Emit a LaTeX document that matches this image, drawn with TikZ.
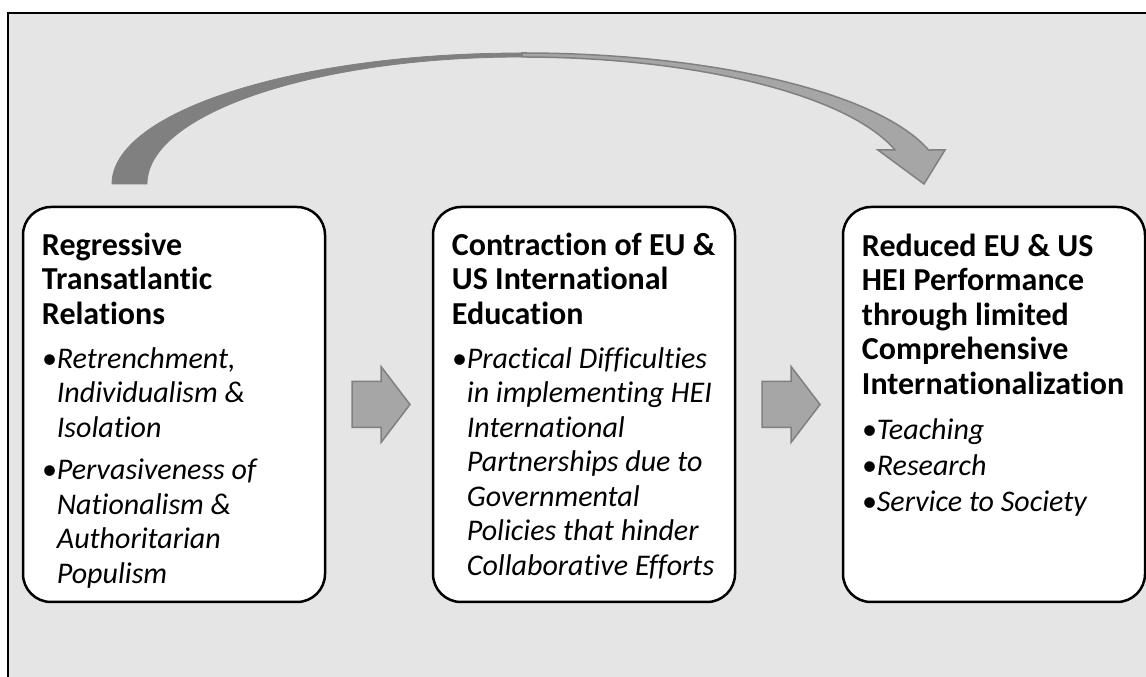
\documentclass[tikz,border=0pt]{standalone}
\usepackage{fontspec}
\setmainfont{Carlito}[Ligatures={NoCommon,NoContextual}]
\usetikzlibrary{positioning}
\usetikzlibrary{calc}

\newcommand{\hd}[1]{{\fontsize{32}{34.5}\selectfont\upshape\bfseries #1}}
\newcommand{\bul}{\textbullet}
\newcommand{\ind}{\phantom{\textbullet}}

\begin{document}
\begin{tikzpicture}[x=1pt,y=1pt,
	       box node/.style={draw, line width=2.5pt, rounded corners=28pt, fill=white,
	                        minimum width=302pt, minimum height=395pt, inner sep=0pt},
	       box text/.style={anchor=north west, inner sep=0pt, align=left,
	                        font=\fontsize{30}{34.5}\selectfont\itshape},
	       flat arrow/.style={fill=black!35, draw=black!50, line width=1.5pt},
	       back band/.style={fill=black!50, draw=black!50, line width=0.8pt},
	       front band/.style={fill=black!35, draw=black!50, line width=1.5pt}]

	      \useasboundingbox (0,0) rectangle (1146,677);
	      \draw[line width=2pt, fill=black!10] (8,-15) rectangle (1160,664);

	      \node[box node] at (174,272.5) (rel) {};
	      \node[box node] at (584,272.5) (edu) {};
	      \node[box node] at (994,272.5) (hei) {};

	      \node[box text] at ($(rel.north west)+(20,-27)$) (reltext)
	        {\hd{Regressive}\\ \hd{Transatlantic}\\ \hd{Relations}\\[9.5pt]
	         \bul Retrenchment,\\ \ind Individualism \&\\ \ind Isolation\\[8pt]
	         \bul Pervasiveness of\\ \ind Nationalism \&\\
	         \ind Authoritarian\\ \ind Populism};
	      \node[box text] at ($(edu.north west)+(20,-27)$) (edutext)
	        {\hd{Contraction of EU \&}\\ \hd{US International}\\ \hd{Education}\\[9.5pt]
	         \bul Practical Difficulties\\ \ind in implementing HEI\\
	         \ind International\\ \ind Partnerships due to\\
	         \ind Governmental\\ \ind Policies that hinder\\
	         \ind Collaborative Efforts};
	      \node[box text] at ($(hei.north west)+(20,-28)$) (heitext)
	        {\hd{Reduced EU \& US}\\ \hd{HEI Performance}\\ \hd{through limited}\\
	         \hd{Comprehensive}\\ \hd{Internationalization}\\[10.5pt]
	         \bul Teaching\\[1.5pt] \bul Research\\[1.5pt] \bul Service to Society};

	      % block arrows between the boxes
	      \coordinate (m1) at ($(rel.east)!0.5!(edu.west)$);
	      \coordinate (m2) at ($(edu.east)!0.5!(hei.west)$);
	      \foreach \m in {m1,m2}
	        \draw[flat arrow] ($(\m)+(-27,23)$) -- ++(29,0) -- ++(0,15) -- ++(29,-38)
	          -- ++(-29,-38) -- ++(0,15) -- ++(-29,0) -- cycle;

	      % curved arrow over the top
	      \draw[back band] (112,493) arc[start angle=180, end angle=90, x radius=410, y radius=131]
	        -- (522,620) arc[start angle=90, end angle=180, x radius=375, y radius=127] -- cycle;
	      \draw[front band] (522,624) arc[start angle=90, end angle=15.04, x radius=421, y radius=131]
	        -- (945,527) -- (924,493) -- (878,527) -- (895,527)
	        arc[start angle=15.53, end angle=90, x radius=387, y radius=127] -- cycle;

	    \end{tikzpicture}
\end{document}
